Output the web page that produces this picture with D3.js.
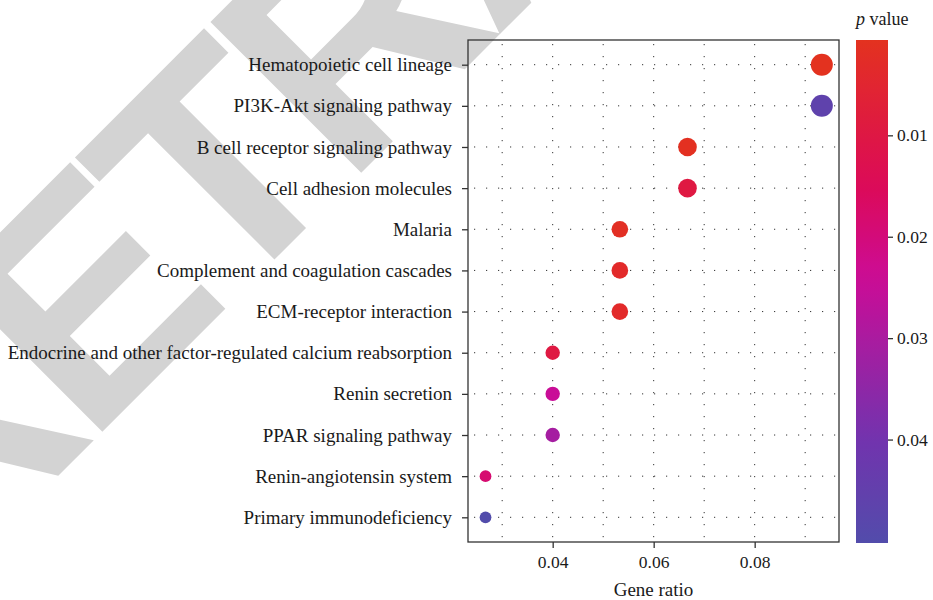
<!DOCTYPE html>
<html>
<head>
<meta charset="utf-8">
<script src="https://cdn.jsdelivr.net/npm/d3@7"></script>
<style>
  html, body { margin: 0; padding: 0; background: #fff; }
  svg { display: block; }
</style>
</head>
<body>
<div id="chart"></div>
<script>
// KEGG pathway enrichment: gene ratio vs pathway, coloured by p value, sized by gene count
const pathways = [
  "Hematopoietic cell lineage",
  "PI3K-Akt signaling pathway",
  "B cell receptor signaling pathway",
  "Cell adhesion molecules",
  "Malaria",
  "Complement and coagulation cascades",
  "ECM-receptor interaction",
  "Endocrine and other factor-regulated calcium reabsorption",
  "Renin secretion",
  "PPAR signaling pathway",
  "Renin-angiotensin system",
  "Primary immunodeficiency"
];
const geneRatio = [0.0933, 0.0933, 0.0667, 0.0667, 0.0533, 0.0533, 0.0533, 0.04, 0.04, 0.04, 0.0267, 0.0267];
const geneCount = [7, 7, 5, 5, 4, 4, 4, 3, 3, 3, 2, 2];
const pValue = [0.0006, 0.046, 0.0012, 0.0095, 0.0018, 0.0035, 0.0035, 0.0095, 0.0245, 0.031, 0.0185, 0.0502];
const xTicks = [0.04, 0.06, 0.08];
const xGrid = [0.03, 0.04, 0.05, 0.06, 0.07, 0.08, 0.09];
const pTicks = [0.01, 0.02, 0.03, 0.04];

const W = 933, H = 600;
const panel = { left: 468, right: 839, top: 40, bottom: 542 };
const serif = "'Liberation Serif', 'Times New Roman', serif";
const textInk = "#1a1a1a";

const svg = d3.select("#chart").append("svg")
  .attr("width", W).attr("height", H);

// background watermark
svg.append("text")
  .attr("transform", "translate(-60,594) rotate(-45)")
  .attr("font-family", "'Liberation Sans', Arial, sans-serif")
  .attr("font-weight", "bold")
  .attr("font-size", 310)
  .attr("letter-spacing", -15)
  .attr("fill", "#d3d3d3")
  .text("RETRACTED");

const x = d3.scaleLinear()
  .domain([0.02323, 0.0967])
  .range([panel.left, panel.right]);

const y = d3.scalePoint()
  .domain(pathways)
  .range([panel.top, panel.bottom])
  .padding(0.6);

const pExtent = d3.extent(pValue);
const color = d3.scaleLinear()
  .domain([pExtent[0], 0.015, 0.024, 0.04, pExtent[1]])
  .range(["#e3321f", "#dc0a58", "#cc0c96", "#7233ae", "#524cab"])
  .interpolate(d3.interpolateRgb);

const radius = d3.scaleSqrt().domain([0, d3.max(geneCount)]).range([0, 11]);

const ink = "#333";

// dotted grid
const grid = svg.append("g").attr("stroke", ink).attr("stroke-width", 1)
  .attr("stroke-dasharray", "1.2 10.8");
grid.selectAll("line.v").data(xGrid).join("line")
  .attr("class", "v")
  .attr("x1", d => x(d)).attr("x2", d => x(d))
  .attr("y1", panel.top + 4).attr("y2", panel.bottom);
grid.selectAll("line.h").data(pathways).join("line")
  .attr("class", "h")
  .attr("x1", panel.left + 6).attr("x2", panel.right)
  .attr("y1", d => y(d)).attr("y2", d => y(d));

// points
svg.append("g").selectAll("circle").data(pathways).join("circle")
  .attr("cx", (d, i) => x(geneRatio[i]))
  .attr("cy", d => y(d))
  .attr("r", (d, i) => radius(geneCount[i]))
  .attr("fill", (d, i) => color(pValue[i]));

// panel border
svg.append("rect")
  .attr("x", panel.left).attr("y", panel.top)
  .attr("width", panel.right - panel.left).attr("height", panel.bottom - panel.top)
  .attr("fill", "none").attr("stroke", ink).attr("stroke-width", 1.3);

// y axis
const yAxis = svg.append("g")
  .attr("transform", `translate(${panel.left},0)`)
  .call(d3.axisLeft(y).tickSize(6).tickPadding(10));
yAxis.select(".domain").remove();
yAxis.selectAll(".tick line").attr("stroke", ink).attr("stroke-width", 1.3);
yAxis.selectAll(".tick text")
  .attr("font-family", serif).attr("font-size", 19).attr("fill", textInk);

// x axis
const xAxis = svg.append("g")
  .attr("transform", `translate(0,${panel.bottom})`)
  .call(d3.axisBottom(x).tickValues(xTicks).tickFormat(d3.format(".2f")).tickSize(6).tickPadding(8));
xAxis.select(".domain").remove();
xAxis.selectAll(".tick line").attr("stroke", ink).attr("stroke-width", 1.3);
xAxis.selectAll(".tick text")
  .attr("font-family", serif).attr("font-size", 17.5).attr("fill", textInk);

svg.append("text")
  .attr("x", (panel.left + panel.right) / 2).attr("y", 596)
  .attr("text-anchor", "middle")
  .attr("font-family", serif).attr("font-size", 19).attr("fill", textInk)
  .text("Gene ratio");

// colour bar legend
const bar = { x: 856, w: 32, top: 40, bottom: 543 };
const defs = svg.append("defs");
const grad = defs.append("linearGradient")
  .attr("id", "pgrad").attr("x1", 0).attr("x2", 0).attr("y1", 0).attr("y2", 1);
const stops = d3.range(0, 1.0001, 0.05);
grad.selectAll("stop").data(stops).join("stop")
  .attr("offset", d => d)
  .attr("stop-color", d => color(pExtent[0] + d * (pExtent[1] - pExtent[0])));

svg.append("rect")
  .attr("x", bar.x).attr("y", bar.top)
  .attr("width", bar.w).attr("height", bar.bottom - bar.top)
  .attr("fill", "url(#pgrad)");

const py = d3.scaleLinear().domain(pExtent).range([bar.top, bar.bottom]);
const pAxis = svg.append("g")
  .attr("transform", `translate(${bar.x + bar.w},0)`)
  .call(d3.axisRight(py).tickValues(pTicks).tickFormat(d3.format(".2f")).tickSize(5).tickPadding(4));
pAxis.select(".domain").remove();
pAxis.selectAll(".tick line").attr("stroke", ink).attr("stroke-width", 1.3);
pAxis.selectAll(".tick text")
  .attr("font-family", serif).attr("font-size", 17.5).attr("fill", textInk);

const title = svg.append("text")
  .attr("x", 856).attr("y", 25)
  .attr("font-family", serif).attr("font-size", 18).attr("fill", textInk);
title.append("tspan").attr("font-style", "italic").text("p");
title.append("tspan").text(" value");
</script>
</body>
</html>
